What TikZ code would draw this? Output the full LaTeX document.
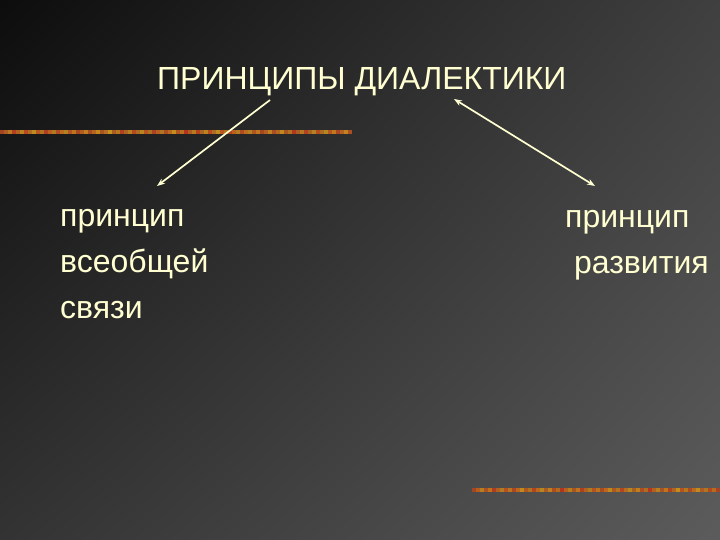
\documentclass[tikz,border=0pt]{standalone}
\usepackage{fontspec}
\setmainfont{Liberation Sans}
\usetikzlibrary{arrows.meta,shadings}
\definecolor{cream}{HTML}{FFFFD2}
\definecolor{barGold}{HTML}{C8961E}
\definecolor{barRed}{HTML}{B4321E}
\definecolor{barBrown}{HTML}{8C6428}
\begin{document}
\begin{tikzpicture}[x=1pt,y=-1pt,>={Stealth[length=8pt,width=6pt]},
  txt/.style={text=cream,font=\fontsize{32}{46}\selectfont,inner sep=0pt,align=left},
  conn/.style={draw=cream,line width=1.7pt}]
\useasboundingbox (0,0) rectangle (720,540);
\shade[upper left=black!95,upper right=black!75,lower left=black!80,lower right=black!64] (0,0) rectangle (720,540);
\foreach \i in {0,...,87}{
  \pgfmathsetmacro\p{int(mod(\i*37,100))}
  \pgfmathsetmacro\q{int(mod(\i*53,40)+60)}
  \fill[barGold!\p!barRed!\q!barBrown] (\i*4,130) rectangle ++(4.2,4);}
\foreach \i in {0,...,61}{
  \pgfmathsetmacro\p{int(mod(\i*41,100))}
  \pgfmathsetmacro\q{int(mod(\i*29,40)+60)}
  \fill[barGold!\p!barRed!\q!barBrown] (472+\i*4,488) rectangle ++(4.2,4);}
\node[txt,anchor=base west] (title) at (157,90) {ПРИНЦИПЫ ДИАЛЕКТИКИ};
\node[txt,anchor=base west] (link) at (60,318) {принцип\\всеобщей\\связи};
\node[txt,anchor=base west] (devel) at (565,273) {принцип\\~развития};
\coordinate (ls) at (270,100);
\coordinate (le) at (157,186);
\coordinate (rs) at (454,99);
\coordinate (re) at (595,186);
\draw[conn,->] (ls) -- (le);
\draw[conn,<->] (rs) -- (re);
\end{tikzpicture}
\end{document}
